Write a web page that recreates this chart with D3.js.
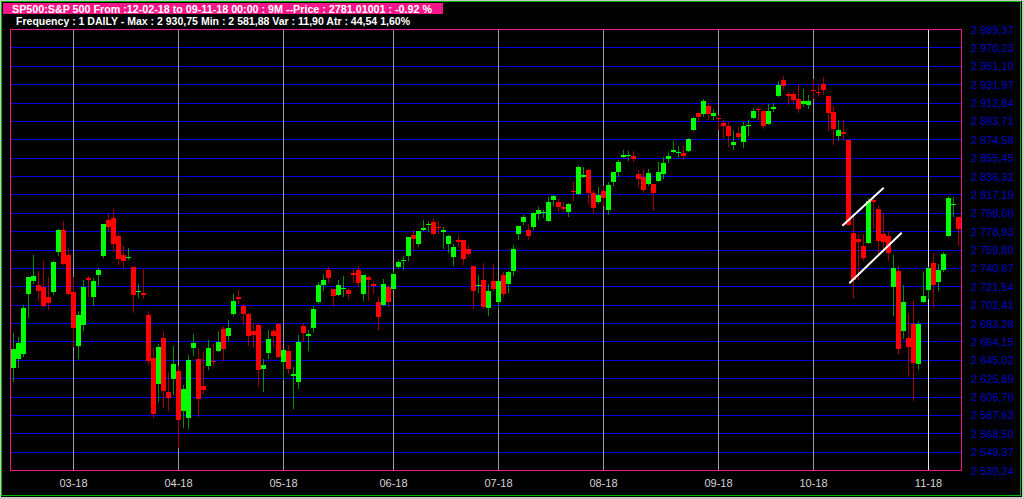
<!DOCTYPE html>
<html><head><meta charset="utf-8">
<script src="https://cdn.jsdelivr.net/npm/d3@7"></script>
<style>html,body{margin:0;padding:0;background:#c8c8c8;overflow:hidden}svg{display:block}</style>
</head><body><svg id="c" width="1024" height="499"></svg>
<script>
const titleLine1 = "SP500:S&P 500 From :12-02-18 to 09-11-18 00:00 : 9M --Price : 2781.01001 : -0.92 %";
const titleLine2 = "Frequency : 1 DAILY - Max : 2 930,75 Min : 2 581,88 Var : 11,90 Atr : 44,54 1,60%";

const dates = [
"2018-02-12","2018-02-13","2018-02-14","2018-02-15","2018-02-16","2018-02-20","2018-02-21","2018-02-22","2018-02-23","2018-02-26","2018-02-27","2018-02-28",
"2018-03-01","2018-03-02","2018-03-05","2018-03-06","2018-03-07","2018-03-08","2018-03-09","2018-03-12","2018-03-13","2018-03-14","2018-03-15","2018-03-16","2018-03-19","2018-03-20","2018-03-21","2018-03-22","2018-03-23","2018-03-26","2018-03-27","2018-03-28","2018-03-29",
"2018-04-02","2018-04-03","2018-04-04","2018-04-05","2018-04-06","2018-04-09","2018-04-10","2018-04-11","2018-04-12","2018-04-13","2018-04-16","2018-04-17","2018-04-18","2018-04-19","2018-04-20","2018-04-23","2018-04-24","2018-04-25","2018-04-26","2018-04-27","2018-04-30",
"2018-05-01","2018-05-02","2018-05-03","2018-05-04","2018-05-07","2018-05-08","2018-05-09","2018-05-10","2018-05-11","2018-05-14","2018-05-15","2018-05-16","2018-05-17","2018-05-18","2018-05-21","2018-05-22","2018-05-23","2018-05-24","2018-05-25","2018-05-29","2018-05-30","2018-05-31",
"2018-06-01","2018-06-04","2018-06-05","2018-06-06","2018-06-07","2018-06-08","2018-06-11","2018-06-12","2018-06-13","2018-06-14","2018-06-15","2018-06-18","2018-06-19","2018-06-20","2018-06-21","2018-06-22","2018-06-25","2018-06-26","2018-06-27","2018-06-28","2018-06-29",
"2018-07-02","2018-07-03","2018-07-05","2018-07-06","2018-07-09","2018-07-10","2018-07-11","2018-07-12","2018-07-13","2018-07-16","2018-07-17","2018-07-18","2018-07-19","2018-07-20","2018-07-23","2018-07-24","2018-07-25","2018-07-26","2018-07-27","2018-07-30","2018-07-31",
"2018-08-01","2018-08-02","2018-08-03","2018-08-06","2018-08-07","2018-08-08","2018-08-09","2018-08-10","2018-08-13","2018-08-14","2018-08-15","2018-08-16","2018-08-17","2018-08-20","2018-08-21","2018-08-22","2018-08-23","2018-08-24","2018-08-27","2018-08-28","2018-08-29","2018-08-30","2018-08-31",
"2018-09-04","2018-09-05","2018-09-06","2018-09-07","2018-09-10","2018-09-11","2018-09-12","2018-09-13","2018-09-14","2018-09-17","2018-09-18","2018-09-19","2018-09-20","2018-09-21","2018-09-24","2018-09-25","2018-09-26","2018-09-27","2018-09-28",
"2018-10-01","2018-10-02","2018-10-03","2018-10-04","2018-10-05","2018-10-08","2018-10-09","2018-10-10","2018-10-11","2018-10-12","2018-10-15","2018-10-16","2018-10-17","2018-10-18","2018-10-19","2018-10-22","2018-10-23","2018-10-24","2018-10-25","2018-10-26","2018-10-29","2018-10-30","2018-10-31",
"2018-11-01","2018-11-02","2018-11-05","2018-11-06","2018-11-07","2018-11-08","2018-11-09"];

const openP = [
2636.75,2646.27,2651.21,2713.46,2727.14,2722.99,2720.53,2710.42,2715.80,2757.37,2780.45,2753.78,
2715.22,2658.89,2681.06,2730.18,2710.18,2732.75,2752.91,2790.54,2792.31,2774.06,2754.27,2750.57,2741.38,2715.05,2714.99,2691.36,2646.71,2619.35,2667.57,2611.30,2625.50,
2633.45,2592.17,2584.04,2657.36,2645.82,2617.18,2638.41,2643.89,2653.83,2676.90,2670.10,2692.74,2710.11,2701.16,2692.56,2675.40,2680.80,2634.92,2651.65,2675.47,2682.51,
2642.96,2654.24,2628.08,2621.45,2680.34,2670.26,2678.12,2705.02,2722.70,2738.47,2718.59,2712.62,2719.71,2717.35,2735.39,2738.34,2713.98,2730.94,2723.60,2705.11,2702.43,2720.98,
2718.70,2741.67,2748.46,2753.25,2774.84,2765.84,2780.18,2785.60,2787.94,2783.21,2777.78,2765.79,2752.01,2769.73,2769.28,2760.79,2742.94,2722.12,2728.45,2698.69,2727.13,
2704.95,2733.27,2724.19,2737.68,2775.62,2788.56,2779.82,2783.14,2796.93,2797.36,2789.34,2811.35,2809.37,2804.55,2799.17,2820.68,2817.73,2835.49,2842.35,2819.00,2809.73,
2821.17,2800.48,2829.62,2840.29,2855.92,2856.79,2857.19,2838.90,2835.46,2827.88,2827.95,2831.44,2838.32,2853.93,2861.51,2860.99,2860.29,2862.35,2884.69,2901.45,2900.62,2908.94,2898.37,
2896.96,2891.59,2888.64,2868.26,2881.39,2871.57,2888.29,2896.85,2906.38,2903.83,2890.74,2906.60,2919.73,2936.76,2921.83,2921.75,2916.98,2911.65,2910.03,
2926.29,2923.80,2931.69,2919.35,2902.54,2877.53,2882.51,2873.90,2776.87,2770.54,2763.83,2767.05,2811.67,2802.00,2775.66,2773.94,2721.03,2737.87,2674.88,2667.86,2682.65,2640.68,2705.60,
2717.58,2745.45,2726.37,2738.40,2774.13,2806.38,2794.10];

const highP = [
2672.61,2668.84,2702.10,2731.51,2754.42,2737.60,2747.75,2731.26,2747.76,2780.64,2789.15,2761.52,
2730.89,2696.25,2728.09,2732.08,2730.60,2740.45,2786.57,2796.98,2801.90,2777.11,2763.03,2761.85,2741.38,2724.22,2739.14,2695.68,2657.67,2661.36,2674.78,2632.65,2659.71,
2638.30,2619.14,2649.86,2672.08,2656.88,2653.55,2665.45,2661.43,2674.72,2680.26,2686.49,2713.34,2717.49,2702.84,2693.94,2682.86,2683.55,2645.30,2676.48,2677.35,2682.87,
2655.27,2660.87,2637.14,2670.93,2683.35,2676.34,2701.27,2726.11,2732.86,2742.10,2718.59,2727.76,2731.96,2719.50,2739.19,2742.24,2733.33,2731.97,2727.36,2710.67,2729.34,2722.50,
2736.93,2749.16,2752.61,2772.39,2779.90,2779.39,2790.21,2789.80,2791.47,2789.06,2782.81,2774.99,2765.05,2774.86,2769.28,2764.17,2742.94,2732.91,2746.09,2724.34,2743.26,
2727.26,2736.58,2737.83,2764.41,2784.65,2795.58,2785.91,2799.22,2804.53,2801.19,2814.19,2816.76,2812.05,2809.70,2808.61,2829.99,2848.03,2845.57,2843.17,2821.74,2824.46,
2825.83,2829.91,2840.38,2853.29,2863.43,2862.44,2862.48,2842.20,2843.40,2843.11,2827.95,2850.49,2855.63,2859.76,2873.23,2867.54,2868.78,2876.16,2898.25,2903.77,2916.50,2912.46,2906.32,
2900.18,2894.21,2892.05,2883.81,2886.93,2892.52,2894.65,2906.76,2908.30,2904.65,2911.17,2912.36,2934.80,2940.91,2923.79,2923.95,2931.15,2927.22,2920.53,
2937.06,2931.42,2939.86,2919.78,2909.64,2894.83,2894.70,2874.02,2795.14,2775.77,2775.99,2813.46,2816.94,2806.04,2797.77,2778.94,2753.59,2742.59,2722.70,2692.38,2706.85,2685.43,2736.69,
2741.67,2756.55,2744.27,2756.82,2815.15,2814.75,2794.10];

const lowP = [
2622.45,2637.08,2648.87,2689.82,2725.11,2706.76,2701.29,2697.77,2713.74,2753.78,2744.22,2713.54,
2659.65,2647.32,2675.75,2711.26,2701.74,2722.65,2751.54,2779.26,2758.68,2744.38,2741.47,2749.97,2694.59,2710.05,2709.79,2641.59,2585.89,2601.81,2596.12,2593.06,2609.72,
2553.80,2575.49,2573.61,2649.58,2586.27,2610.79,2635.78,2639.25,2653.83,2645.05,2665.16,2692.05,2703.63,2681.90,2660.61,2657.99,2617.32,2612.67,2647.16,2659.01,2648.04,
2625.41,2631.70,2594.62,2615.32,2664.70,2655.20,2674.14,2704.54,2717.45,2725.47,2701.91,2712.17,2711.36,2709.18,2725.70,2721.88,2707.38,2707.38,2714.99,2676.81,2702.43,2700.68,
2718.70,2740.54,2739.51,2748.46,2760.16,2763.59,2780.17,2778.78,2774.65,2776.52,2761.73,2757.12,2743.19,2763.91,2744.39,2752.68,2698.67,2715.60,2699.38,2691.99,2718.03,
2698.95,2711.16,2716.02,2733.52,2770.73,2786.24,2770.77,2781.53,2791.69,2793.39,2789.24,2805.89,2799.77,2800.01,2795.14,2811.12,2817.73,2835.26,2808.34,2798.11,2808.06,
2805.85,2796.34,2827.37,2835.98,2855.92,2853.09,2851.98,2825.81,2819.88,2826.58,2802.49,2831.44,2833.73,2850.62,2861.32,2856.05,2854.03,2862.35,2884.69,2893.50,2898.40,2895.22,2895.77,
2885.13,2876.92,2867.29,2864.12,2875.94,2866.78,2879.20,2896.39,2895.77,2886.16,2890.43,2903.82,2919.73,2927.11,2912.63,2913.70,2903.28,2909.27,2907.50,
2917.91,2919.37,2921.36,2883.92,2869.29,2874.27,2874.27,2784.86,2710.51,2729.44,2749.03,2766.91,2781.81,2755.18,2760.27,2749.22,2691.43,2651.89,2667.84,2628.16,2603.54,2635.34,2705.60,
2708.85,2700.44,2717.94,2737.08,2774.13,2794.99,2764.24];

const closeP = [
2656.00,2662.94,2698.63,2731.20,2732.22,2716.26,2701.33,2703.96,2747.30,2779.60,2744.28,2713.83,
2677.67,2691.25,2720.94,2728.12,2726.80,2738.97,2786.57,2783.02,2765.31,2749.48,2747.33,2752.01,2712.92,2716.94,2711.93,2643.69,2588.26,2658.55,2612.62,2605.00,2640.87,
2581.88,2614.45,2644.69,2662.84,2604.47,2613.16,2656.87,2642.19,2663.99,2656.30,2677.84,2706.39,2708.64,2693.13,2670.14,2670.29,2634.56,2639.40,2666.94,2669.91,2648.05,
2654.80,2635.67,2629.73,2663.42,2672.63,2671.92,2697.79,2723.07,2727.72,2730.13,2711.45,2722.46,2720.13,2712.97,2733.01,2724.44,2733.29,2727.76,2721.33,2689.86,2724.01,2705.27,
2734.62,2746.87,2748.80,2772.35,2770.37,2779.03,2782.00,2786.85,2775.63,2782.49,2779.66,2773.75,2762.59,2767.32,2749.76,2754.88,2717.07,2723.06,2699.63,2716.31,2718.37,
2726.71,2713.22,2736.61,2759.82,2784.17,2793.84,2774.02,2798.29,2801.31,2798.43,2809.55,2815.62,2804.49,2801.83,2806.98,2820.40,2846.07,2837.44,2818.82,2802.60,2816.29,
2813.36,2827.22,2840.35,2850.40,2858.45,2857.70,2853.58,2833.28,2821.93,2839.96,2818.37,2840.69,2850.13,2857.05,2862.96,2861.82,2856.98,2874.69,2896.74,2897.52,2914.04,2901.13,2901.52,
2896.72,2888.60,2878.05,2871.68,2877.13,2887.89,2888.92,2904.18,2904.98,2888.80,2904.31,2907.95,2930.75,2929.67,2919.37,2915.56,2905.97,2914.00,2913.98,
2924.59,2923.43,2925.51,2901.61,2885.57,2884.43,2880.34,2785.68,2728.37,2767.13,2750.79,2809.92,2809.21,2768.78,2767.78,2755.88,2740.69,2656.10,2705.57,2658.69,2641.25,2682.63,2711.74,
2740.37,2723.06,2738.31,2755.45,2813.89,2806.83,2781.01];

const yTickValues = [2530.24,2549.37,2568.50,2587.63,2606.76,2625.89,2645.02,2664.15,2683.28,2702.41,2721.54,2740.67,2759.80,2778.93,2798.06,2817.19,2836.32,2855.45,2874.58,2893.71,2912.84,2931.97,2951.10,2970.23,2989.37];
const yTickLabels = ["2 530,24","2 549,37","2 568,50","2 587,63","2 606,76","2 625,89","2 645,02","2 664,15","2 683,28","2 702,41","2 721,54","2 740,67","2 759,80","2 778,93","2 798,06","2 817,19","2 836,32","2 855,45","2 874,58","2 893,71","2 912,84","2 931,97","2 951,10","2 970,23","2 989,37"];
const monthLabels = ["03-18","04-18","05-18","06-18","07-18","08-18","09-18","10-18","11-18"];

// trend lines: [candle index, price] endpoints
const trendLineA = [[165.76, 2784.6], [174.04, 2824.2]];
const trendLineB = [[167.16, 2724.6], [177.64, 2777.3]];

const FONT = '"Liberation Sans", Arial, sans-serif';
const PINK = "#f5168a";

const svg = d3.select("#c");
// frame
svg.append("rect").attr("x",0).attr("y",0).attr("width",1024).attr("height",499).attr("fill","#c8c8c8");
svg.append("rect").attr("x",1).attr("y",1).attr("width",1021).attr("height",496).attr("fill","#000");
svg.append("rect").attr("x",1.5).attr("y",1.5).attr("width",1019).attr("height",494)
  .attr("fill","none").attr("stroke","#00b400").attr("stroke-width",1).attr("shape-rendering","crispEdges");

const plot = {left:10, top:29, right:961, bottom:470};

const x = d3.scaleBand().domain(dates).range([11, 961]).paddingInner(0).paddingOuter(0);
const bw = x.bandwidth();
const xIdx = d3.scaleLinear().domain([0, dates.length-1]).range([x(dates[0]) + bw/2, x(dates[dates.length-1]) + bw/2]);
const y = d3.scaleLinear().domain([2530.24, 2989.37]).range([plot.bottom, plot.top]);

// horizontal grid
svg.append("g").attr("shape-rendering","crispEdges").selectAll("line").data(yTickValues).join("line")
  .attr("x1", plot.left).attr("x2", plot.right)
  .attr("y1", d => Math.round(y(d)) + 0.5).attr("y2", d => Math.round(y(d)) + 0.5)
  .attr("stroke", "#0000e0").attr("stroke-width", 1);

// month separators
const monthIdx = [];
dates.forEach((d, i) => { if (i > 0 && d.slice(5,7) !== dates[i-1].slice(5,7)) monthIdx.push(i); });
const monthTicks = monthIdx.map((i, k) => ({i, label: monthLabels[k], last: k === monthIdx.length-1}));
svg.append("g").attr("shape-rendering","crispEdges").selectAll("line").data(monthTicks).join("line")
  .attr("x1", d => x(dates[d.i]) + 2.5).attr("x2", d => x(dates[d.i]) + 2.5)
  .attr("y1", plot.top).attr("y2", plot.bottom)
  .attr("stroke", d => d.last ? "#e4e4e4" : "#9c9c9c").attr("stroke-width", 1);

// candles
const candles = dates.map((d, i) => ({d, o: openP[i], h: highP[i], l: lowP[i], c: closeP[i]}));
const cg = svg.append("g").attr("shape-rendering","crispEdges");
cg.selectAll("line.wick").data(candles).join("line").attr("class","wick")
  .attr("x1", d => x(d.d) + 2.5).attr("x2", d => x(d.d) + 2.5)
  .attr("y1", d => Math.round(y(d.h))).attr("y2", d => Math.round(y(d.l)) + 1)
  .attr("stroke", d => d.c >= d.o ? "#009000" : "#a00000").attr("stroke-width", 1);
cg.selectAll("rect.body").data(candles).join("rect").attr("class","body")
  .attr("x", d => x(d.d)).attr("width", bw)
  .attr("y", d => Math.round(y(Math.max(d.o, d.c))))
  .attr("height", d => Math.max(1, Math.round(y(Math.min(d.o, d.c))) - Math.round(y(Math.max(d.o, d.c)))))
  .attr("fill", d => d.c >= d.o ? "#00ff00" : "#ff0000");

// trend lines
svg.append("g").selectAll("line").data([trendLineA, trendLineB]).join("line")
  .attr("x1", d => xIdx(d[0][0])).attr("y1", d => y(d[0][1]))
  .attr("x2", d => xIdx(d[1][0])).attr("y2", d => y(d[1][1]))
  .attr("stroke", "#ffffff").attr("stroke-width", 2);

// plot border
svg.append("rect").attr("x", plot.left + 0.5).attr("y", plot.top + 0.5)
  .attr("width", plot.right - plot.left).attr("height", plot.bottom - plot.top)
  .attr("fill","none").attr("stroke", PINK).attr("stroke-width",1).attr("shape-rendering","crispEdges");

// y labels
svg.append("g").selectAll("text").data(yTickValues).join("text")
  .attr("x", 971).attr("y", d => y(d) + 4.5)
  .attr("font-family", FONT).attr("font-size", "11px").attr("fill", "#0000c8")
  .text((d, i) => yTickLabels[i]);

// x labels
svg.append("g").selectAll("text").data(monthTicks).join("text")
  .attr("x", d => x(dates[d.i]) + 2.5).attr("y", 487)
  .attr("text-anchor","middle")
  .attr("font-family", FONT).attr("font-size", "11px").attr("fill", "#d4d4d4")
  .text(d => d.label);

// header
svg.append("rect").attr("x",3).attr("y",3).attr("width",440).attr("height",11).attr("fill",PINK);
svg.append("text").attr("x",12).attr("y",12.5)
  .attr("font-family", FONT).attr("font-size","11px").attr("font-weight","bold").attr("fill","#fff")
  .attr("textLength", 420).attr("lengthAdjust","spacingAndGlyphs").text(titleLine1);
svg.append("text").attr("x",16).attr("y",24.5)
  .attr("font-family", FONT).attr("font-size","11px").attr("font-weight","bold").attr("fill","#fff")
  .attr("textLength", 394).attr("lengthAdjust","spacingAndGlyphs").text(titleLine2);
</script>
</body></html>
